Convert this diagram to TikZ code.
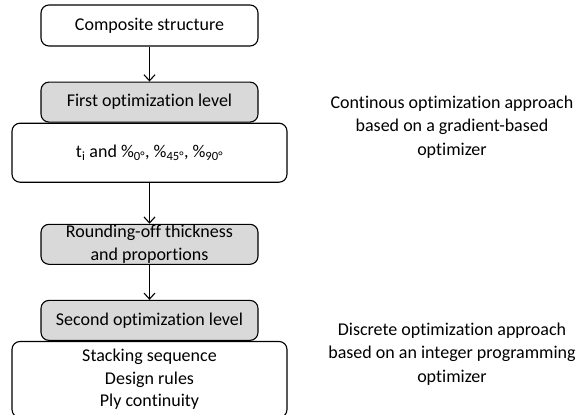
\documentclass[tikz,border=0pt]{standalone}
\usepackage{fontspec}
\setmainfont{Carlito}[Ligatures=NoCommon]
\usetikzlibrary{positioning, arrows.meta}
\tikzset{white box/.style={rectangle, rounded corners=8pt, draw, line width=1.1pt, fill=white, minimum width=275pt, align=center, inner sep=0pt}, }
\tikzset{grey box/.style={rectangle, rounded corners=8pt, draw, line width=1.1pt, fill=black!15, minimum width=217pt, minimum height=40pt, align=center, inner sep=0pt}, }
\tikzset{note/.style={align=center, inner sep=0pt}, }

\begin{document}
\begin{tikzpicture}[x=1pt, y=-1pt, font=\fontsize{18}{22.5}\selectfont]
	\useasboundingbox (0,0) rectangle (582,415);
	\node[grey box, fill=white, minimum height=41pt] (comp) at (149.5,25.5) {Composite structure};
	\node[grey box] (first) [below = 35pt of comp] {First optimization level};
	\node[white box, minimum height=59pt] (vars) [below = 0pt of first] {t\textsubscript{i} and \%\textsubscript{0°}, \%\textsubscript{45°}, \%\textsubscript{90°}};
	\node[grey box] (round) [below = 41pt of vars] {Rounding-off thickness\\and proportions};
	\node[grey box] (second) [below = 35pt of round] {Second optimization level};
	\node[white box, minimum height=76pt] (rules) [below = 0pt of second] {Stacking sequence\\Design rules\\Ply continuity};
	\node[note, font=\fontsize{18}{23.5}\selectfont] (cont) at (452,127) {Continous optimization approach\\based on a gradient-based\\optimizer};
	\node[note, font=\fontsize{18}{23.5}\selectfont] (disc) at (452,354) {Discrete optimization approach\\based on an integer programming\\optimizer};
	\path[draw, line width=1.1pt, -{Straight Barb[length=6pt, width=11pt]}]
		(comp) edge (first)
		(vars) edge (round)
		(round) edge (second)
		;
\end{tikzpicture}
\end{document}
